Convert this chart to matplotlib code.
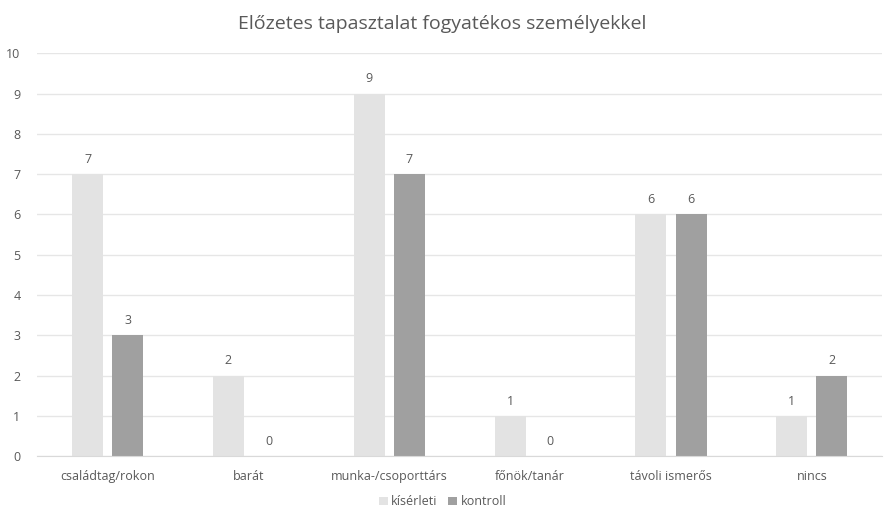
import numpy as np
import matplotlib.pyplot as plt

plt.rcParams["font.family"] = ["Open Sans", "DejaVu Sans"]

kategoriak = ["családtag/rokon", "barát", "munka-/csoporttárs", "főnök/tanár",
              "távoli ismerős", "nincs"]
kiserleti = [7, 2, 9, 1, 6, 1]
kontroll = [3, 0, 7, 0, 6, 2]

SZIN_KIS = "#e3e3e3"
SZIN_KON = "#a0a0a0"
SZOVEG = "#595959"

fig = plt.figure(figsize=(8.85, 5.12), dpi=100)
ax = fig.add_axes([0.042, 0.109, 0.955, 0.787])

x = np.arange(len(kategoriak))
w = 0.22
gap = 0.065
b1 = ax.bar(x - (w + gap) / 2, kiserleti, w, color=SZIN_KIS, label="kísérleti", zorder=2)
b2 = ax.bar(x + (w + gap) / 2, kontroll, w, color=SZIN_KON, label="kontroll", zorder=2)

for bars in (b1, b2):
    for r in bars:
        h = r.get_height()
        ax.annotate(f"{int(h)}", (r.get_x() + r.get_width() / 2, h),
                    xytext=(0, 6), textcoords="offset points",
                    ha="center", va="bottom", fontsize=9, color=SZOVEG)

ax.set_xlim(-0.5, len(kategoriak) - 0.5)
ax.set_ylim(0, 10)
ax.set_yticks(range(0, 11))
ax.set_xticks(x)
ax.set_xticklabels(kategoriak)
ax.tick_params(axis="both", length=0, labelsize=9, colors=SZOVEG)
ax.tick_params(axis="x", pad=10)
ax.tick_params(axis="y", pad=12)
ax.grid(True, axis="y", color="#e6e6e6", linewidth=1, zorder=0)
for s in ("top", "right", "left"):
    ax.spines[s].set_visible(False)
ax.spines["bottom"].set_color("#d9d9d9")

fig.suptitle("Előzetes tapasztalat fogyatékos személyekkel", y=0.97,
             fontsize=14, color=SZOVEG)

fig.legend(loc="lower center", bbox_to_anchor=(0.5, -0.015), ncol=2, frameon=False,
           fontsize=9, labelcolor=SZOVEG, handlelength=0.7, handleheight=0.7,
           handletextpad=0.3, columnspacing=0.8)

fig.savefig("out.png", dpi=100)
